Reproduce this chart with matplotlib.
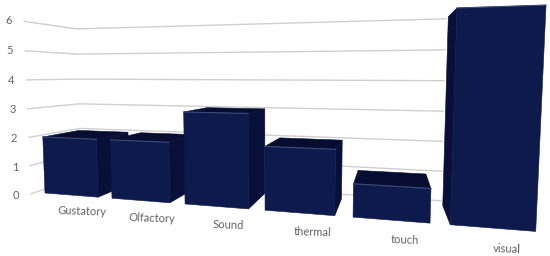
import numpy as np
import matplotlib
matplotlib.use('Agg')
import matplotlib.pyplot as plt
from matplotlib.patches import Polygon

categories = ['Gustatory', 'Olfactory', 'Sound', 'thermal', 'touch', 'visual']
values = [2, 2, 3, 2, 1, 6]
y_ticks = [0, 1, 2, 3, 4, 5, 6]

bar_width = 0.8
bar_depth = 1.0
wall_x = -0.15
wall_front = -0.1
wall_z = 1.3
wall_end = 5.0

front_col = '#0d1a4b'
side_col = '#080f38'
top_col = '#060d30'
edge_col = '#3d4a78'
grid_col = '#cfcfcf'
text_col = '#636363'

# perspective camera, vanishing points
vx = np.array([-1500, 72, 1]) * -0.04156
vy = np.array([272, 6000, 1]) * -0.004776
vz = np.array([391, 74, 1]) * 0.115
origin = np.array([45, 193, 1])


def proj(x, y, z):
    p = x * vx + y * vy + z * vz + origin
    return p[0] / p[2], p[1] / p[2]


plt.rcParams['font.family'] = ['Lato', 'DejaVu Sans']
fig = plt.figure(figsize=(5.5, 2.56), dpi=100)
ax = fig.add_axes([0, 0, 1, 1])
ax.set_xlim(0, 550)
ax.set_ylim(256, 0)
ax.axis('off')

# gridlines on left and back wall
for t in y_ticks:
    pts = [proj(wall_x, t, wall_front), proj(wall_x, t, wall_z), proj(wall_end, t, wall_z)]
    ax.plot(*zip(*pts), color=grid_col, lw=1.0, zorder=1)
    lx, ly = proj(-0.25, t, -0.3)
    ax.text(lx, ly, str(t), color=text_col, fontsize=8, ha='center', va='center')


def face(pts, col, z):
    ax.add_patch(Polygon([proj(*p) for p in pts], closed=True, fc=col, ec=col, lw=0.4, zorder=z))


# bars, left to right
for i, v in enumerate(values):
    x0, x1 = i, i + bar_width
    d = bar_depth
    z = 2 + i
    if proj(x0, v, 0)[1] > proj(x0, v, d)[1]:
        face([(x0, v, 0), (x1, v, 0), (x1, v, d), (x0, v, d)], top_col, z)
    if proj(x1, 0, 0)[0] < proj(x1, 0, d)[0]:
        face([(x1, 0, 0), (x1, v, 0), (x1, v, d), (x1, 0, d)], side_col, z)
    if proj(x0, 0, 0)[0] > proj(x0, 0, d)[0]:
        face([(x0, 0, 0), (x0, v, 0), (x0, v, d), (x0, 0, d)], side_col, z)
    face([(x0, 0, 0), (x1, 0, 0), (x1, v, 0), (x0, v, 0)], front_col, z)
    ax.plot(*zip(proj(x0, v, 0), proj(x1, v, 0)), color=edge_col, lw=0.8, zorder=z)
    lx, ly = proj(i + 0.55, -0.56, 0)
    ax.text(lx, ly, categories[i], color=text_col, fontsize=8, ha='center', va='center',
            rotation=-2, rotation_mode='anchor')

fig.savefig('out.png', dpi=100)
